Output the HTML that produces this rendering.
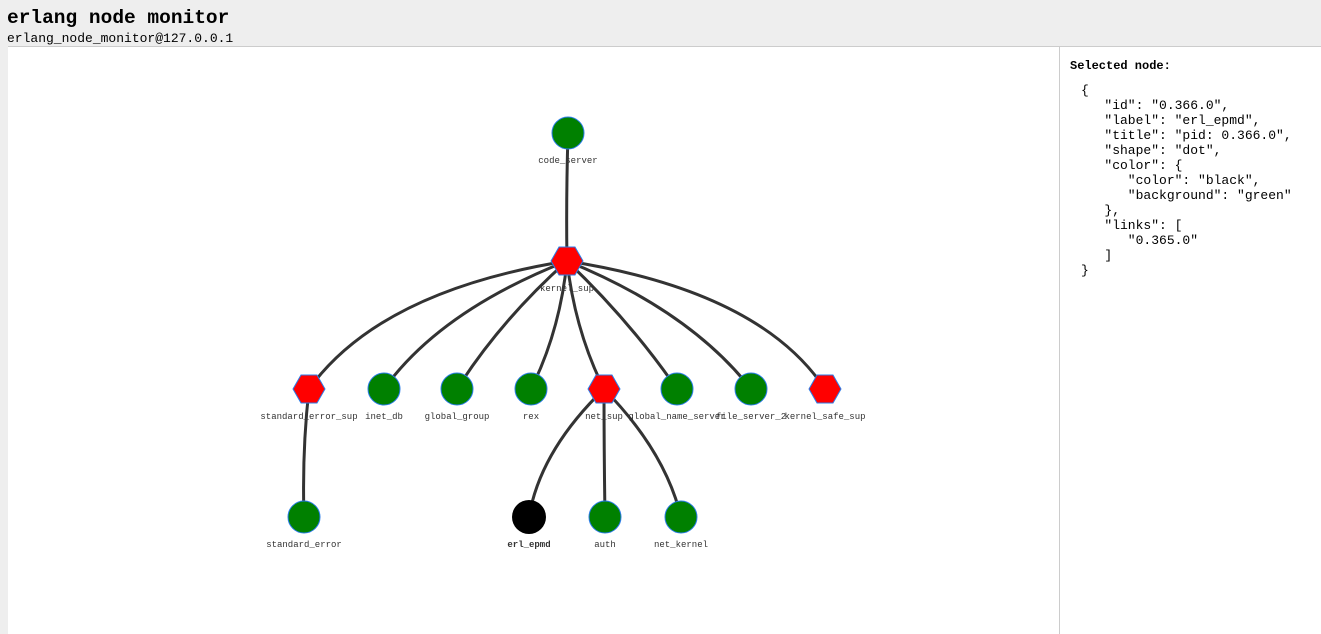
<!DOCTYPE html>
<html><head><style>
body{margin:0;width:1321px;height:633px;overflow:hidden;background:#eee;font-family:"Liberation Mono",monospace;position:relative}
h1{position:absolute;left:7px;top:7px;margin:0;font-size:19.5px;font-weight:bold}
.sub{position:absolute;left:7px;top:31px;font-size:13px}
#g{position:absolute;left:8px;top:46px;width:1051px;height:587px;background:#fff;border-top:1px solid #ccc;border-right:1px solid #ccc}
#p{position:absolute;left:1060px;top:46px;width:261px;height:587px;background:#fff;border-top:1px solid #ccc}
.t{position:absolute;left:10px;top:12px;font-size:12px;font-weight:bold}
pre{position:absolute;left:21px;top:36px;margin:0;font-size:13px;line-height:15px;font-family:"Liberation Mono",monospace}
svg text{font-family:"Liberation Mono",monospace;font-size:9px;text-anchor:middle;fill:#333}
</style></head><body>
<h1>erlang node monitor</h1>
<div class="sub">erlang_node_monitor@127.0.0.1</div>
<div id="g"><svg width="1051" height="587" viewBox="8 46 1051 587" style="position:absolute;left:0;top:0">
<g stroke="#333" stroke-width="3" fill="none">
<path d="M568 132 Q566 200 567 260"/>
<path d="M567 260 Q380 290 309 388"/>
<path d="M567 260 Q440 310 384 388"/>
<path d="M567 260 Q500 320 457 388"/>
<path d="M567 260 Q560 330 531 388"/>
<path d="M567 260 Q575 330 604 388"/>
<path d="M567 260 Q630 320 677 388"/>
<path d="M567 260 Q690 310 751 388"/>
<path d="M567 260 Q760 290 825 388"/>
<path d="M309 388 Q302 450 304 516"/>
<path d="M604 388 Q540 450 529 516"/>
<path d="M604 388 Q604 450 605 516"/>
<path d="M604 388 Q665 450 681 516"/>
</g>
<g fill="#008000" stroke="#2b7ce9" stroke-width="1">
<circle cx="568" cy="132" r="16"/>
<circle cx="384" cy="388" r="16"/><circle cx="457" cy="388" r="16"/><circle cx="531" cy="388" r="16"/>
<circle cx="677" cy="388" r="16"/><circle cx="751" cy="388" r="16"/>
<circle cx="304" cy="516" r="16"/><circle cx="605" cy="516" r="16"/><circle cx="681" cy="516" r="16"/>
</g>
<circle cx="529" cy="516" r="17" fill="#000"/>
<g fill="#f00" stroke="#2b7ce9" stroke-width="1">
<polygon points="551,260 559,246 575,246 583,260 575,274 559,274"/>
<polygon points="293,388 301,374 317,374 325,388 317,402 301,402"/>
<polygon points="588,388 596,374 612,374 620,388 612,402 596,402"/>
<polygon points="809,388 817,374 833,374 841,388 833,402 817,402"/>
</g>
<text x="568" y="162">code_server</text>
<text x="567" y="290">kernel_sup</text>
<text x="309" y="418">standard_error_sup</text>
<text x="384" y="418">inet_db</text>
<text x="457" y="418">global_group</text>
<text x="531" y="418">rex</text>
<text x="604" y="418">net_sup</text>
<text x="677" y="418">global_name_server</text>
<text x="751" y="418">file_server_2</text>
<text x="825" y="418">kernel_safe_sup</text>
<text x="304" y="546">standard_error</text>
<text x="529" y="546" font-weight="bold">erl_epmd</text>
<text x="605" y="546">auth</text>
<text x="681" y="546">net_kernel</text>
</svg></div>
<div id="p"><div class="t">Selected node:</div>
<pre>{
   "id": "0.366.0",
   "label": "erl_epmd",
   "title": "pid: 0.366.0",
   "shape": "dot",
   "color": {
      "color": "black",
      "background": "green"
   },
   "links": [
      "0.365.0"
   ]
}</pre></div>
</body></html>
